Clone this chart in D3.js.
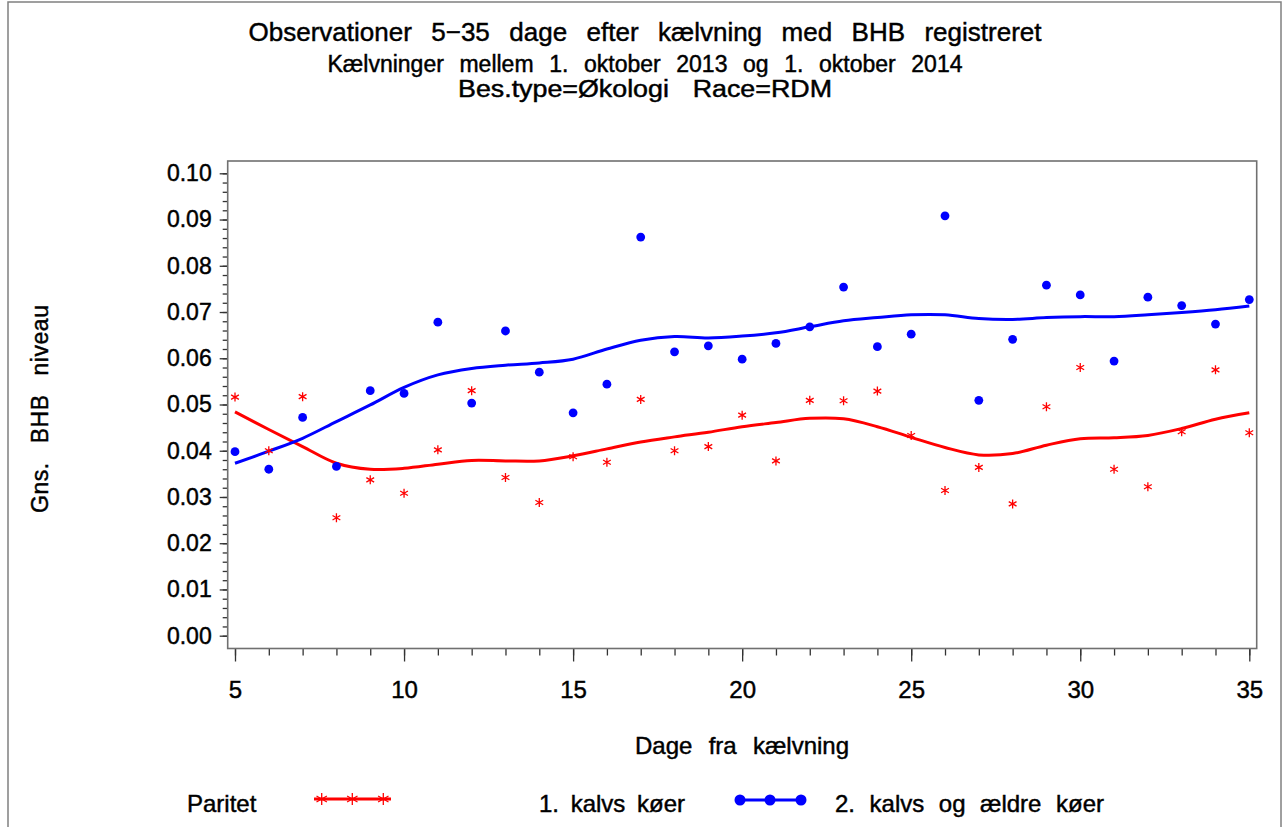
<!DOCTYPE html>
<html>
<head>
<meta charset="utf-8">
<script src="https://cdn.jsdelivr.net/npm/d3@7"></script>
<style>
  html, body { margin: 0; padding: 0; background: #fff; }
  svg { display: block; font-family: "Liberation Sans", Arial, sans-serif; }
  text { fill: #000; stroke: #000; stroke-width: 0.45px; }
</style>
</head>
<body>
<svg id="chart" width="1285" height="827"></svg>
<script>
// Days after calving (x categories)
const days = [5, 6, 7, 8, 9, 10, 11, 12, 13, 14, 15, 16, 17, 18, 19, 20,
  21, 22, 23, 24, 25, 26, 27, 28, 29, 30, 31, 32, 33, 34, 35];

// 1. kalvs køer - mean BHB (red stars)
const firstMeans = [0.0516, 0.0400, 0.0517, 0.0255, 0.0337, 0.0308, 0.0402, 0.0530,
  0.0342, 0.0288, 0.0387, 0.0375, 0.0511, 0.0400, 0.0409, 0.0477, 0.0378, 0.0509,
  0.0508, 0.0529, 0.0433, 0.0314, 0.0364, 0.0285, 0.0495, 0.0580, 0.0360, 0.0322,
  0.0441, 0.0575, 0.0439];

// 1. kalvs køer - smoothed curve
const firstFit = [0.0484, 0.0446, 0.0409, 0.0373, 0.0360, 0.0362, 0.0371, 0.0379,
  0.0378, 0.0378, 0.0389, 0.0404, 0.0419, 0.0430, 0.0440, 0.0452, 0.0461, 0.0470,
  0.0469, 0.0452, 0.0429, 0.0407, 0.0391, 0.0394, 0.0412, 0.0426, 0.0428, 0.0433,
  0.0448, 0.0468, 0.0482];

// 2. kalvs og ældre køer - mean BHB (blue dots)
const olderMeans = [0.0398, 0.0360, 0.0472, 0.0366, 0.0530, 0.0524, 0.0678, 0.0503,
  0.0659, 0.0570, 0.0482, 0.0544, 0.0862, 0.0614, 0.0627, 0.0598, 0.0632, 0.0668,
  0.0754, 0.0625, 0.0652, 0.0908, 0.0509, 0.0641, 0.0758, 0.0737, 0.0594, 0.0732,
  0.0714, 0.0674, 0.0727];

// 2. kalvs og ældre køer - smoothed curve
const olderFit = [0.0373, 0.0399, 0.0427, 0.0463, 0.0499, 0.0537, 0.0564, 0.0578,
  0.0585, 0.0590, 0.0598, 0.0620, 0.0639, 0.0647, 0.0644, 0.0648, 0.0655, 0.0668,
  0.0681, 0.0688, 0.0694, 0.0694, 0.0686, 0.0684, 0.0688, 0.0690, 0.0690, 0.0694,
  0.0699, 0.0705, 0.0713];

const yTicks = [0.00, 0.01, 0.02, 0.03, 0.04, 0.05, 0.06, 0.07, 0.08, 0.09, 0.10];
const xTicks = [5, 10, 15, 20, 25, 30, 35];

const titleLines = [
  "Observationer 5\u221235 dage efter kælvning med BHB registreret",
  "Kælvninger mellem 1. oktober 2013 og 1. oktober 2014",
  "Bes.type=Økologi Race=RDM"
];

const RED = "#ff0000";
const BLUE = "#0000ff";

const svg = d3.select("#chart");

// Spread the extra width into the word gaps (capped), rest by the given adjust
function fitWords(sel, target, maxGap, adjust) {
  const node = sel.node();
  const natural = node.getComputedTextLength();
  const gaps = (node.textContent.match(/ /g) || []).length;
  if (target <= natural) return sel;
  let ws = gaps > 0 ? (target - natural) / gaps : 0;
  if (maxGap !== undefined && ws > maxGap) {
    ws = maxGap;
    sel.attr("word-spacing", ws)
      .attr("textLength", target).attr("lengthAdjust", adjust || "spacing");
  } else if (ws > 0) {
    sel.attr("word-spacing", ws);
  }
  return sel;
}

// Outer border
svg.append("rect")
  .attr("x", 8).attr("y", 2).attr("width", 1273).attr("height", 840)
  .attr("fill", "none").attr("stroke", "#808080").attr("stroke-width", 1.5);

// Titles
const titleSpecs = [
  { size: 26, y: 40.5, len: 793, gap: 14, adjust: "spacing" },
  { size: 23, y: 72, len: 635, gap: 10, adjust: "spacing" },
  { size: 23, y: 96.5, len: 374, gap: 14, adjust: "spacingAndGlyphs" }
];
titleLines.forEach((t, i) => {
  const el = svg.append("text")
    .attr("x", 645).attr("y", titleSpecs[i].y)
    .attr("text-anchor", "middle")
    .attr("font-size", titleSpecs[i].size)
    .text(t);
  fitWords(el, titleSpecs[i].len, titleSpecs[i].gap, titleSpecs[i].adjust);
});

// Scales
const x = d3.scaleLinear().domain([5, 35]).range([235, 1249.3]);
const y = d3.scaleLinear().domain([0, 0.10]).range([635.7, 173.3]);

const frame = { left: 227.7, right: 1256.7, top: 161, bottom: 648.5 };

// Y axis with minor ticks
const yMinor = d3.range(0, 0.1001, 0.002);
const yAxis = svg.append("g").attr("transform", `translate(${frame.left},0)`);
yAxis.call(d3.axisLeft(y).tickValues(yMinor).tickSize(5).tickFormat(""));
yAxis.call(g => g.select(".domain").remove());
const yMajor = svg.append("g").attr("transform", `translate(${frame.left},0)`)
  .call(d3.axisLeft(y).tickValues(yTicks).tickSize(8).tickPadding(8)
    .tickFormat(d3.format(".2f")));
yMajor.select(".domain").remove();
yMajor.selectAll("text").attr("font-size", 23)
  .attr("font-family", "'Liberation Sans', Arial, sans-serif");

// X axis with minor ticks
const xAxis = svg.append("g").attr("transform", `translate(0,${frame.bottom})`);
xAxis.call(d3.axisBottom(x).tickValues(days).tickSize(7).tickFormat(""));
xAxis.call(g => g.select(".domain").remove());
const xMajor = svg.append("g").attr("transform", `translate(0,${frame.bottom})`)
  .call(d3.axisBottom(x).tickValues(xTicks).tickSize(13).tickPadding(19)
    .tickFormat(d3.format("d")));
xMajor.select(".domain").remove();
xMajor.selectAll("text").attr("font-size", 24)
  .attr("font-family", "'Liberation Sans', Arial, sans-serif");

svg.selectAll(".tick line").attr("stroke", "#333").attr("stroke-width", 1.3);

// Plot frame
svg.append("rect")
  .attr("x", frame.left).attr("y", frame.top)
  .attr("width", frame.right - frame.left).attr("height", frame.bottom - frame.top)
  .attr("fill", "none").attr("stroke", "#707070").attr("stroke-width", 1.6);

// Axis labels
fitWords(svg.append("text")
  .attr("x", 742).attr("y", 754)
  .attr("text-anchor", "middle").attr("font-size", 24)
  .text("Dage fra kælvning"), 214, 12);

fitWords(svg.append("text")
  .attr("transform", "translate(48,409) rotate(-90)")
  .attr("text-anchor", "middle").attr("font-size", 23)
  .text("Gns. BHB niveau"), 208, 12);

// Smoothed curves
const line = d3.line()
  .x((d, i) => x(days[i]))
  .y(d => y(d))
  .curve(d3.curveCatmullRom.alpha(0.5));

svg.append("path").datum(firstFit)
  .attr("d", line).attr("fill", "none")
  .attr("stroke", RED).attr("stroke-width", 3);

svg.append("path").datum(olderFit)
  .attr("d", line).attr("fill", "none")
  .attr("stroke", BLUE).attr("stroke-width", 3);

// Asterisk marker
function star(r) {
  const a = Math.PI / 6;
  const dx = r * Math.cos(a), dy = r * Math.sin(a);
  return `M0,${-r}L0,${r}M${-dx},${-dy}L${dx},${dy}M${-dx},${dy}L${dx},${-dy}`;
}

svg.append("g").selectAll("path")
  .data(firstMeans)
  .enter().append("path")
  .attr("transform", (d, i) => `translate(${x(days[i])},${y(d)})`)
  .attr("d", star(4.5))
  .attr("stroke", RED).attr("stroke-width", 1.3).attr("fill", "none");

svg.append("g").selectAll("circle")
  .data(olderMeans)
  .enter().append("circle")
  .attr("cx", (d, i) => x(days[i]))
  .attr("cy", d => y(d))
  .attr("r", 4.4)
  .attr("fill", BLUE);

// Legend
const legendY = 811.5;
fitWords(svg.append("text").attr("x", 187).attr("y", legendY)
  .attr("font-size", 24).text("Paritet"), 69);

svg.append("line")
  .attr("x1", 314).attr("x2", 391).attr("y1", 799).attr("y2", 799)
  .attr("stroke", RED).attr("stroke-width", 3);
[321.7, 352.3, 383.3].forEach(cx => {
  svg.append("path").attr("transform", `translate(${cx},799)`)
    .attr("d", star(6)).attr("stroke", RED).attr("stroke-width", 1.3).attr("fill", "none");
});

fitWords(svg.append("text").attr("x", 539).attr("y", legendY)
  .attr("font-size", 24).text("1. kalvs køer"), 146, 10);

svg.append("line")
  .attr("x1", 736).attr("x2", 805).attr("y1", 800).attr("y2", 800)
  .attr("stroke", BLUE).attr("stroke-width", 3);
[740, 770, 801].forEach(cx => {
  svg.append("circle").attr("cx", cx).attr("cy", 800).attr("r", 5.5).attr("fill", BLUE);
});

fitWords(svg.append("text").attr("x", 835).attr("y", legendY)
  .attr("font-size", 24).text("2. kalvs og ældre køer"), 269, 10);
</script>
</body>
</html>
